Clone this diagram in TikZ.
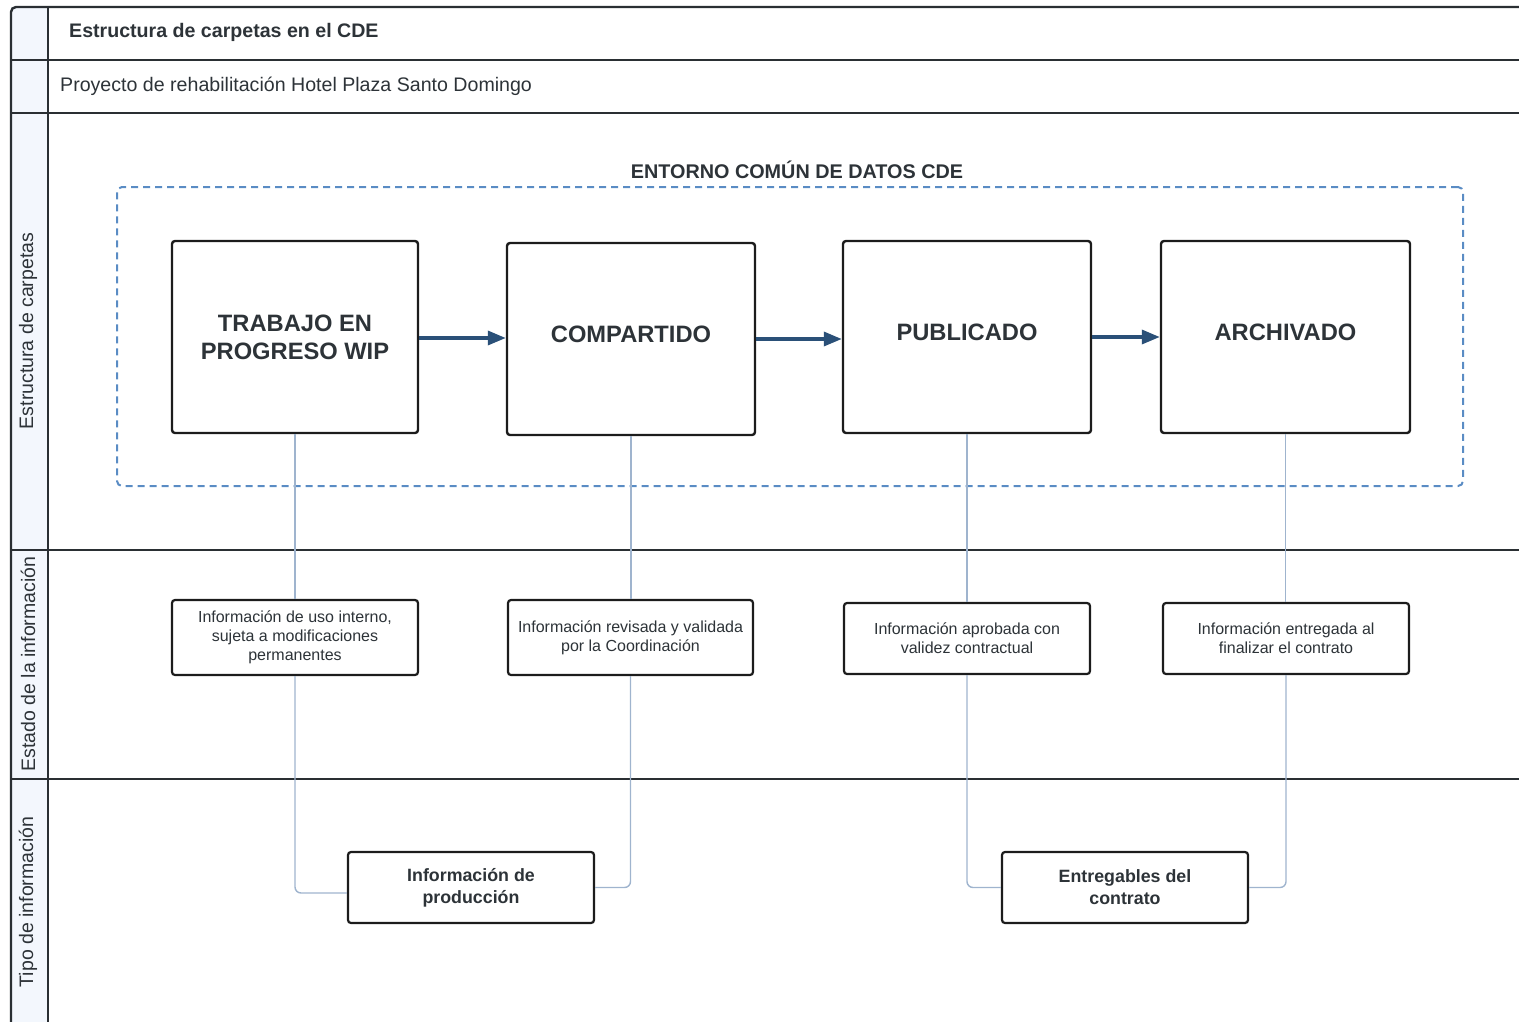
\documentclass[tikz,border=0pt]{standalone}
\usepackage{fontspec}
\setmainfont{Liberation Sans}
\usetikzlibrary{arrows.meta}
\definecolor{txt}{HTML}{2D3338}
\definecolor{frame}{HTML}{2A2F33}
\definecolor{lanefill}{HTML}{F3F7FD}
\definecolor{boxline}{HTML}{1C1C1C}
\definecolor{arrowblue}{HTML}{2A5078}
\definecolor{dashblue}{HTML}{5A8CC4}
\definecolor{connblue}{HTML}{9FB4CE}
\tikzset{
  bigbox/.style={draw=boxline, line width=2.4pt, rounded corners=3pt, fill=white, text=txt,
    minimum width=246pt, minimum height=192pt, align=center, inner sep=0pt,
    font=\fontsize{23.7}{28}\selectfont\bfseries},
  onetext/.style={text depth=9pt},
  smallbox/.style={draw=boxline, line width=2.2pt, rounded corners=3pt, fill=white, text=txt,
    minimum width=246pt, minimum height=73pt, align=center, inner sep=0pt,
    font=\fontsize{16}{19}\selectfont},
  typebox/.style={draw=boxline, line width=2.2pt, rounded corners=3pt, fill=white, text=txt,
    minimum width=246pt, minimum height=71pt, align=center, inner sep=0pt,
    font=\fontsize{17.8}{22}\selectfont\bfseries},
  flow/.style={draw=arrowblue, line width=3.4pt, -{Triangle[length=18pt,width=14pt]}},
  conn/.style={draw=connblue, line width=1.4pt, rounded corners=6pt},
  gridline/.style={draw=frame, line width=2.4pt},
  lanelabel/.style={text=txt, rotate=90, font=\fontsize{19.5}{22}\selectfont, inner sep=0pt},
}
\begin{document}
\begin{tikzpicture}[x=1pt,y=-1pt]
\useasboundingbox (0,0) rectangle (1519,1021);
% left column fill
\fill[lanefill] (11,7) rectangle (48,1030);
% grid
\draw[gridline, rounded corners=5pt] (11,1030) -- (11,7) -- (1530,7);
\draw[gridline] (48,7) -- (48,1030);
\draw[gridline] (11,60) -- (1530,60);
\draw[gridline] (11,113) -- (1530,113);
\draw[gridline] (11,550) -- (1530,550);
\draw[gridline] (11,779) -- (1530,779);
% header texts
\node[anchor=west, text=txt, font=\fontsize{19.6}{22}\selectfont\bfseries, inner sep=0pt] (title) at (69,32.5) {Estructura de carpetas en el CDE};
\node[anchor=west, text=txt, font=\fontsize{19.6}{22}\selectfont, inner sep=0pt] (project) at (60,86.5) {Proyecto de rehabilitación Hotel Plaza Santo Domingo};
% lane labels
\node[lanelabel] (lane1) at (28,331) {Estructura de carpetas};
\node[lanelabel] (lane2) at (28,664) {Estado de la información};
\node[lanelabel] (lane3) at (28,902) {Tipo de información};
% CDE dashed frame
\node[draw=dashblue, line width=2pt, dash pattern=on 7pt off 5pt, rounded corners=5pt,
  minimum width=1346pt, minimum height=299pt, inner sep=0pt] (cde) at (790,336.5) {};
\node[text=txt, font=\fontsize{19.8}{22}\selectfont\bfseries, inner sep=0pt] (cdetitle) at (797,170) {ENTORNO COMÚN DE DATOS CDE};
% big boxes
\node[bigbox] (b1) at (295,337) {TRABAJO EN\\PROGRESO WIP};
\node[bigbox, onetext, minimum width=248pt] (b2) at (631,339) {COMPARTIDO};
\node[bigbox, onetext, minimum width=248pt] (b3) at (967,337) {PUBLICADO};
\node[bigbox, onetext, minimum width=249pt] (b4) at (1285.5,337) {ARCHIVADO};
% small boxes
\node[smallbox, minimum height=75pt] (s1) at (295,637.5) {Información de uso interno,\\sujeta a modificaciones\\permanentes};
\node[smallbox, minimum width=245pt, minimum height=75pt] (s2) at (630.5,637.5) {Información revisada y validada\\por la Coordinación};
\node[smallbox, minimum height=71pt] (s3) at (967,638.5) {Información aprobada con\\validez contractual};
\node[smallbox, minimum height=71pt] (s4) at (1286,638.5) {Información entregada al\\finalizar el contrato};
% type boxes
\node[typebox] (p1) at (471,887.5) {Información de\\producción};
\node[typebox] (p2) at (1125,887.5) {Entregables del\\contrato};
% connectors
\draw[conn] (b1.south) -- (s1.north);
\draw[conn] (b2.south) -- (b2.south |- s2.north);
\draw[conn] (b3.south) -- (b3.south |- s3.north);
\draw[conn] (b4.south) -- (b4.south |- s4.north);
\draw[conn] (s1.south) |- ([yshift=-5.5pt]p1.west);
\draw[conn] (s2.south) |- (p1.east);
\draw[conn] (s3.south) |- (p2.west);
\draw[conn] (s4.south) |- (p2.east);
% flow arrows
\draw[flow] ([yshift=-1pt]b1.east) -- ([yshift=-1pt]b1.east -| b2.west);
\draw[flow] (b2.east) -- (b2.east -| b3.west);
\draw[flow] (b3.east) -- (b3.east -| b4.west);
\end{tikzpicture}
\end{document}
